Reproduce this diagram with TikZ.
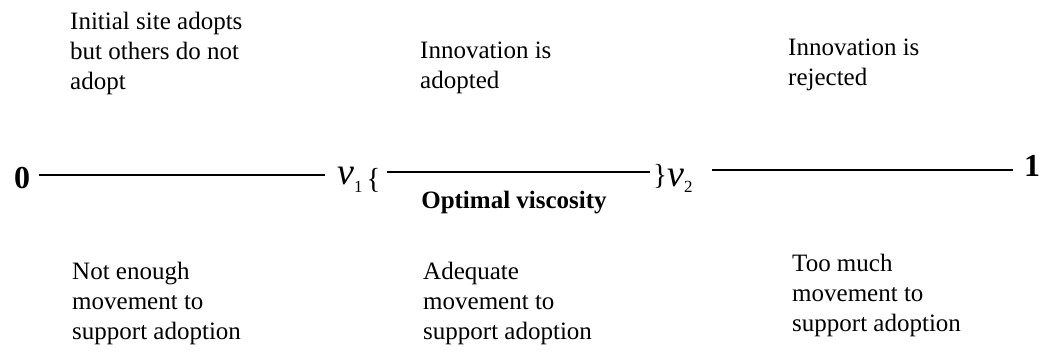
\documentclass[tikz,border=0pt]{standalone}
\usepackage{fontspec}
\setmainfont{Liberation Serif}
\begin{document}
\begin{tikzpicture}[x=1pt,y=-1pt,
  lbl/.style={anchor=north west,inner sep=0pt,align=left,font=\fontsize{25}{30}\selectfont},
  endnum/.style={inner sep=0pt,font=\fontsize{32}{32}\selectfont\bfseries},
  brace/.style={inner sep=0pt,font=\fontsize{29}{29}\selectfont},
  varlbl/.style={anchor=base west,inner sep=0pt},
  axis/.style={line width=2pt}]
\useasboundingbox (0,0) rectangle (1051,352);
% top labels
\node[lbl] (t1) at (70,8) {\strut Initial site adopts\\but others do not\\adopt};
\node[lbl] (t2) at (420,37) {\strut Innovation is\\adopted};
\node[lbl] (t3) at (788,34) {\strut Innovation is\\rejected};
% bottom labels
\node[lbl] (b1) at (72,258) {\strut Not enough\\movement to\\support adoption};
\node[lbl] (b2) at (423,258) {\strut Adequate\\movement to\\support adoption};
\node[lbl] (b3) at (792,250) {\strut Too much\\movement to\\support adoption};
% axis
\node[endnum] (zero) at (22,178) {0};
\node[endnum] (one) at (1032,166) {1};
\node[varlbl] (v1) at (337,185) {{\fontsize{38}{38}\selectfont\itshape v}\raisebox{-8pt}{\fontsize{17}{17}\selectfont 1}};
\node[brace] (lb) at (373.5,180.5) {\{};
\node[brace] (rb) at (660,176.5) {\}};
\node[varlbl] (v2) at (667,187) {{\fontsize{38}{38}\selectfont\itshape v}\raisebox{-6pt}{\fontsize{17}{17}\selectfont 2}};
\node[anchor=base,inner sep=0pt,font=\fontsize{25}{30}\selectfont\bfseries] (opt) at (514,209) {Optimal viscosity};
\coordinate (a1) at (39,175); \coordinate (a2) at (325,175);
\coordinate (c1) at (387,172.5); \coordinate (c2) at (650,172.5);
\coordinate (d1) at (712,170); \coordinate (d2) at (1013,170);
\draw[axis] (a1) -- (a2);
\draw[axis] (c1) -- (c2);
\draw[axis] (d1) -- (d2);
\end{tikzpicture}
\end{document}
